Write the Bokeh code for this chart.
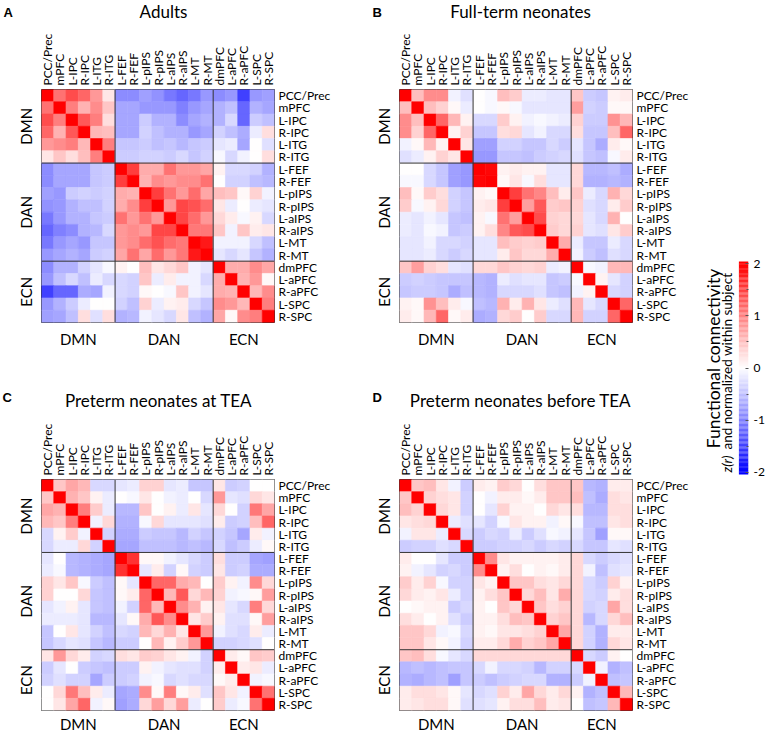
import math
import numpy as np
from bokeh.plotting import figure
from bokeh.models import (Range1d, LinearAxis, FixedTicker, Span, ColumnDataSource)
from bokeh.core.properties import value
from bokeh.layouts import row, column
from bokeh.embed import file_html
from bokeh.resources import INLINE
from bokeh.transform import linear_cmap

# ---------------- data ----------------
regions = ["PCC/Prec", "mPFC", "L-IPC", "R-IPC", "L-ITG", "R-ITG",
           "L-FEF", "R-FEF", "L-pIPS", "R-pIPS", "L-aIPS", "R-aIPS", "L-MT", "R-MT",
           "dmPFC", "L-aPFC", "R-aPFC", "L-SPC", "R-SPC"]
networks = ["DMN", "DAN", "ECN"]
network_sizes = [6, 8, 5]
colorbar_ticks = [-2, -1, 0, 1, 2]
colorbar_minor = [-1.5, -0.5, 0.5, 1.5]

# upper triangles: row i lists the values of columns i..18
adults_upper = [
    [2, 1.1, 1.4, 1.2, 0.8, 0.2, -0.9, -0.9, -0.75, -0.85, -1.05, -1.2, -1.05, -0.8, -0.9, -0.8, -1.5, -0.8, -0.75],
    [2, 1.0, 0.6, 0.9, 0.45, -0.7, -0.7, -0.8, -0.8, -0.8, -1.0, -0.8, -0.7, -0.6, -0.5, -1.2, -0.6, -0.7],
    [2, 1.3, 1.0, 0.25, -0.7, -0.7, -0.4, -0.6, -0.6, -0.9, -0.7, -0.6, -0.6, -0.3, -1.2, -0.4, -0.5],
    [2, 0.55, 0.5, -0.7, -0.7, -0.35, -0.5, -0.6, -0.6, -0.8, -0.7, -0.35, -0.5, -0.65, -0.15, 0.25],
    [2, 1.0, -0.45, -0.45, -0.4, -0.5, -0.45, -0.55, -0.45, -0.4, -0.2, -0.15, -0.7, 0.0, -0.25],
    [2, -0.4, -0.4, -0.35, -0.35, -0.4, -0.3, -0.45, -0.35, -0.05, -0.3, -0.1, 0.0, 0.25],
    [2, 1.5, 0.65, 0.65, 1.1, 0.8, 0.8, 0.7, 0.1, -0.3, -0.3, -0.35, -0.6],
    [2, 0.6, 0.9, 0.8, 0.9, 0.9, 1.1, 0.0, -0.35, -0.35, -0.5, -0.55],
    [2, 1.5, 1.1, 0.8, 1.15, 0.7, 0.5, 0.45, 0.05, 0.35, -0.1],
    [2, 0.8, 1.45, 1.35, 1.15, 0.2, -0.15, 0.0, -0.15, -0.2],
    [2, 1.45, 1.15, 0.8, 0.3, 0.15, -0.05, 0.1, -0.3],
    [2, 1.05, 1.05, 0.45, -0.1, 0.45, 0.15, 0.2],
    [2, 1.8, -0.1, -0.1, -0.1, -0.3, -0.5],
    [2, -0.2, -0.3, -0.2, -0.45, -0.6],
    [2, 0.65, 0.65, 0.9, 0.7],
    [2, 0.6, 0.8, 0.05],
    [2, 0.55, 0.9],
    [2, 1.0],
    [2],
]

fullterm_upper = [
    [2, 0.5, 0.9, 0.9, -0.1, -0.25, 0.0, -0.05, 0.5, 0.4, -0.15, -0.15, -0.2, -0.2, 0.45, -0.4, -0.45, 0.1, 0.15],
    [2, 0.5, 0.35, 0.05, -0.15, 0.0, -0.05, 0.05, -0.05, -0.2, -0.2, -0.2, -0.2, 0.75, -0.35, -0.4, 0.05, 0.05],
    [2, 1.2, 0.55, 0.1, -0.3, -0.3, 0.4, 0.1, -0.1, -0.05, -0.1, -0.15, 0.35, -0.4, -0.4, 0.85, 0.55],
    [2, 0.1, 0.35, -0.45, -0.45, 0.25, 0.3, -0.2, -0.1, -0.3, -0.3, 0.25, -0.45, -0.45, 0.5, 1.2],
    [2, 0.2, -0.75, -0.75, -0.35, -0.35, -0.45, -0.45, -0.3, -0.4, -0.2, -0.45, -0.65, 0.15, 0.05],
    [2, -0.8, -0.8, -0.45, -0.45, -0.5, -0.4, -0.35, -0.3, -0.25, -0.45, -0.5, -0.05, 0.15],
    [2, 1.95, 0.1, 0.15, 0.1, 0.1, -0.2, -0.2, 0.3, -0.55, -0.55, -0.5, -0.65],
    [2, 0.05, 0.2, -0.05, 0.25, -0.2, -0.2, 0.3, -0.6, -0.6, -0.55, -0.6],
    [2, 1.5, 1.1, 0.95, 0.5, 0.15, 0.45, -0.15, -0.3, 0.6, 0.3],
    [2, 0.75, 1.3, 0.4, 0.45, 0.35, -0.25, -0.3, 0.15, 0.4],
    [2, 1.4, 0.35, 0.3, 0.3, -0.2, -0.3, 0.6, 0.0],
    [2, 0.4, 0.3, 0.35, -0.2, -0.25, 0.2, 0.4],
    [2, 0.65, -0.15, -0.45, -0.45, -0.15, -0.3],
    [2, -0.1, -0.4, -0.5, -0.25, -0.3],
    [2, -0.05, -0.1, 0.55, 0.55],
    [2, 0.1, -0.2, -0.35],
    [2, -0.3, -0.35],
    [2, 1.2],
    [2],
]

preterm_tea_upper = [
    [2, 0.45, 0.7, 0.55, -0.3, -0.3, -0.2, -0.15, 0.35, 0.35, -0.2, -0.15, -0.45, -0.45, 0.2, -0.4, -0.35, 0.0, 0.0],
    [2, 0.6, 0.45, 0.1, -0.15, 0.0, -0.05, 0.2, 0.0, -0.1, -0.15, 0.0, -0.3, 0.8, -0.2, -0.25, 0.3, 0.2],
    [2, 1.0, 0.4, -0.15, -0.55, -0.55, 0.45, 0.0, 0.1, -0.15, 0.2, -0.2, 0.3, 0.0, -0.35, 1.05, 0.7],
    [2, -0.1, 0.3, -0.6, -0.6, -0.05, 0.3, -0.2, -0.2, -0.2, -0.25, 0.15, -0.4, -0.35, 0.5, 1.2],
    [2, -0.35, -0.65, -0.65, -0.4, -0.45, -0.45, -0.55, -0.35, -0.45, -0.35, -0.45, -0.7, 0.15, -0.1],
    [2, -0.7, -0.7, -0.5, -0.5, -0.5, -0.55, -0.5, -0.55, -0.3, -0.5, -0.4, -0.15, 0.05],
    [2, 1.6, 0.05, 0.05, -0.1, -0.2, -0.3, -0.4, 0.25, -0.4, -0.4, -0.7, -0.75],
    [2, -0.2, 0.15, -0.35, 0.05, -0.35, -0.4, 0.2, -0.4, -0.35, -0.65, -0.65],
    [2, 1.2, 1.2, 0.65, 0.55, 0.0, 0.4, 0.1, -0.1, 0.9, 0.3],
    [2, 0.55, 1.3, 0.3, 0.55, 0.35, -0.1, -0.05, 0.05, 0.75],
    [2, 0.9, 0.6, 0.1, 0.2, -0.2, -0.3, 1.0, 0.3],
    [2, 0.2, 0.4, 0.1, -0.25, -0.25, 0.05, 0.75],
    [2, 0.8, -0.1, -0.25, -0.3, 0.15, -0.15],
    [2, -0.35, -0.35, -0.3, -0.25, 0.0],
    [2, 0.15, 0.05, 0.45, 0.4],
    [2, 0.15, 0.2, -0.15],
    [2, -0.1, -0.05],
    [2, 1.1],
    [2],
]

preterm_before_upper = [
    [2, 0.45, 0.5, 0.2, -0.1, -0.4, 0.15, 0.1, 0.4, 0.3, 0.0, 0.25, 0.45, 0.45, 0.45, -0.55, -0.6, 0.15, 0.15],
    [2, 0.35, 0.25, 0.2, -0.35, 0.0, -0.1, 0.15, 0.15, 0.05, 0.15, 0.45, 0.45, 0.5, -0.5, -0.65, 0.25, 0.2],
    [2, 0.3, 0.2, -0.35, 0.0, -0.2, 0.35, 0.1, 0.1, 0.0, 0.3, 0.2, 0.25, -0.55, -0.55, 0.25, 0.25],
    [2, -0.15, -0.25, -0.2, -0.35, -0.05, 0.2, 0.1, 0.1, -0.1, 0.05, -0.05, -0.5, -0.5, 0.2, 0.25],
    [2, -0.3, -0.4, -0.3, -0.35, -0.15, -0.4, -0.25, -0.05, -0.1, -0.2, -0.45, -0.75, 0.05, 0.05],
    [2, -0.4, -0.4, -0.35, -0.35, -0.3, -0.4, -0.3, -0.35, -0.3, -0.45, -0.45, -0.2, -0.25],
    [2, 0.9, 0.2, 0.1, 0.1, 0.1, 0.1, 0.15, 0.3, -0.3, -0.4, -0.3, -0.25],
    [2, 0.1, 0.25, 0.0, 0.1, 0.05, 0.15, 0.3, -0.1, -0.5, -0.25, -0.2],
    [2, 0.45, 0.45, 0.25, 0.2, 0.3, 0.3, -0.3, -0.4, 0.35, 0.1],
    [2, 0.3, 0.5, 0.2, 0.65, 0.3, -0.3, -0.35, 0.15, 0.25],
    [2, 0.45, 0.25, 0.35, 0.3, -0.35, -0.3, 0.7, 0.25],
    [2, 0.35, 0.45, 0.3, -0.55, -0.3, 0.3, 0.5],
    [2, 0.7, 0.3, -0.35, -0.6, 0.15, 0.15],
    [2, 0.3, -0.35, -0.6, 0.3, 0.2],
    [2, -0.3, -0.4, 0.1, 0.0],
    [2, -0.1, -0.6, -0.5],
    [2, -0.5, -0.45],
    [2, 0.55],
    [2],
]

# ---------------- helpers ----------------
FONT = "Lato"
LINE = "#333333"
FRAME = 233
N = len(regions)
UNIT = FRAME / N


def bwr_palette(n=256):
    pal = []
    for k in range(n):
        t = k / (n - 1) * 2 - 1
        if t < 0:
            c = int(round(255 * (1 + t)))
            pal.append("#%02x%02x%02x" % (c, c, 255))
        else:
            c = int(round(255 * (1 - t)))
            pal.append("#%02x%02x%02x" % (255, c, c))
    return pal


PALETTE = bwr_palette()


def full_matrix(upper):
    n = len(upper)
    m = [[0.0] * n for _ in range(n)]
    for i, r in enumerate(upper):
        for k, v in enumerate(r):
            j = i + k
            m[i][j] = v
            m[j][i] = v
    return m


def mk_axis(tk, ov, orient, size, standoff):
    return LinearAxis(ticker=FixedTicker(ticks=tk, minor_ticks=[]),
                      major_label_overrides=ov,
                      major_label_orientation=orient,
                      major_label_standoff=standoff,
                      major_label_text_font=FONT,
                      major_label_text_font_size=size,
                      major_label_text_color="black",
                      major_tick_in=0, major_tick_out=0,
                      minor_tick_in=0, minor_tick_out=0,
                      major_tick_line_color=None,
                      minor_tick_line_color=None,
                      axis_line_color=None)


def panel(upper, top, bottom, left, right, bottom_standoff):
    p = figure(width=left + FRAME + right, height=top + FRAME + bottom,
               x_range=Range1d(0, N), y_range=Range1d(N, 0),
               x_axis_location=None, y_axis_location=None,
               min_border_left=left, min_border_right=right,
               min_border_top=top, min_border_bottom=bottom,
               output_backend="svg", toolbar_location=None, tools="")
    p.grid.visible = False
    p.outline_line_color = LINE
    p.outline_line_width = 1

    m = full_matrix(upper)
    xs, ys, vs = [], [], []
    for i in range(N):
        for j in range(N):
            xs.append(j + 0.5)
            ys.append(i + 0.5)
            vs.append(m[i][j])
    src = ColumnDataSource(dict(x=xs, y=ys, v=vs))
    cmap = linear_cmap("v", PALETTE, -2, 2)
    p.rect(x="x", y="y", width=1, height=1, source=src,
           fill_color=cmap, line_color=cmap, line_width=0.6)

    bounds = [float(b) for b in np.cumsum(network_sizes)[:-1]]
    for b in bounds:
        p.add_layout(Span(location=b, dimension="height", line_color=LINE, line_width=1))
        p.add_layout(Span(location=b, dimension="width", line_color=LINE, line_width=1))

    ticks = [i + 0.5 for i in range(N)]
    overrides = {t: lab for t, lab in zip(ticks, regions)}
    starts = [0.0] + bounds
    centers = [float(s + sz / 2) for s, sz in zip(starts, network_sizes)]
    g_over = {c: name for c, name in zip(centers, networks)}

    p.add_layout(mk_axis(ticks, overrides, "vertical", "12px", 4), "above")
    p.add_layout(mk_axis(ticks, overrides, "horizontal", "12px", 4), "right")
    p.add_layout(mk_axis(centers, g_over, "vertical", "15px", 6), "left")
    p.add_layout(mk_axis(centers, g_over, "horizontal", "15px", bottom_standoff), "below")
    return p


def strip(width, height, left, title, letter, title_x, title_y, letter_x, letter_y):
    s = figure(width=width, height=height,
               x_range=Range1d(-left / UNIT, (width - left) / UNIT),
               y_range=Range1d(height, 0), min_border=0,
               x_axis_location=None, y_axis_location=None,
               output_backend="svg", toolbar_location=None, tools="")
    s.grid.visible = False
    s.outline_line_color = None
    s.text(x=[(title_x - left) / UNIT], y=[title_y], text=[title],
           text_font=value(FONT), text_font_size="17px", text_color="black",
           text_align="center", text_baseline="middle")
    s.text(x=[(letter_x - left) / UNIT], y=[letter_y], text=[letter],
           text_font=value("Liberation Sans"), text_font_style="bold",
           text_font_size="13px", text_color="black",
           text_align="left", text_baseline="middle")
    return s


# geometry (pixels)
W_LEFT, W_RIGHT = 370, 330
LEFT_A, LEFT_B = 41, 29
STRIP1, STRIP2 = 30, 70

sA = strip(W_LEFT, STRIP1, LEFT_A, "Adults", "A", 163, 11, 3, 12)
sB = strip(W_RIGHT, STRIP1, LEFT_B, "Full-term neonates", "B", 520 - 370, 11, 372 - 370, 12)
pA = panel(adults_upper, 59, 28, LEFT_A, W_LEFT - LEFT_A - FRAME, 7)
pB = panel(fullterm_upper, 59, 28, LEFT_B, W_RIGHT - LEFT_B - FRAME, 7)
sC = strip(W_LEFT, STRIP2, LEFT_A, "Preterm neonates at TEA", "C", 158, 50, 2, 47)
sD = strip(W_RIGHT, STRIP2, LEFT_B, "Preterm neonates before TEA", "D", 520 - 370, 50, 372 - 370, 47)
pC = panel(preterm_tea_upper, 59, 23, LEFT_A, W_LEFT - LEFT_A - FRAME, 4)
pD = panel(preterm_before_upper, 59, 23, LEFT_B, W_RIGHT - LEFT_B - FRAME, 4)

TOTAL_H = STRIP1 + (59 + FRAME + 28) + STRIP2 + (59 + FRAME + 23)

# ---------------- colour bar ----------------
CB_W = 67
CB_FRAME_W = 50          # frame covers the text column and the bar
CB_TOP, CB_H = 261, 213
CB_LO, CB_HI = -2.04, 2.04
cb = figure(width=CB_W, height=TOTAL_H, x_range=Range1d(-4, 1), y_range=Range1d(CB_LO, CB_HI),
            x_axis_location=None, y_axis_location=None,
            min_border_left=0, min_border_right=CB_W - CB_FRAME_W,
            min_border_top=CB_TOP, min_border_bottom=TOTAL_H - CB_TOP - CB_H,
            output_backend="svg", toolbar_location=None, tools="")
cb.grid.visible = False
cb.outline_line_color = None
levels = np.linspace(CB_LO, CB_HI, 171)
step = levels[1] - levels[0]
cb_src = ColumnDataSource(dict(y=levels, v=levels))
cb_cmap = linear_cmap("v", PALETTE, -2, 2)
cb.rect(x=0.5, y="y", width=1, height=step * 1.05, source=cb_src,
        fill_color=cb_cmap, line_color=None)
cb_axis = LinearAxis(ticker=FixedTicker(ticks=colorbar_ticks, minor_ticks=colorbar_minor),
                     major_label_overrides={float(t): str(t) for t in colorbar_ticks},
                     major_label_standoff=5,
                     major_label_text_font=FONT, major_label_text_font_size="12px",
                     major_label_text_color="black",
                     major_tick_in=3, major_tick_out=0,
                     minor_tick_in=2, minor_tick_out=0,
                     major_tick_line_color="#555555", minor_tick_line_color="#555555",
                     axis_line_color=None)
cb.add_layout(cb_axis, "right")

px_x = CB_FRAME_W / 5.0                 # pixels per x unit
px_y = CB_H / (CB_HI - CB_LO)           # pixels per y unit


def cb_y(page_y):
    return CB_HI - (page_y - CB_TOP) / px_y


cb.text(x=[(714 - 740) / px_x], y=[cb_y(358)], text=["Functional connectivity"], angle=math.pi / 2,
        text_align="center", text_baseline="middle",
        text_font=value(FONT), text_font_size="17.5px", text_color="black")
cb.text(x=[(728 - 740) / px_x], y=[cb_y(472)], text=["z(r)"], angle=math.pi / 2,
        text_align="left", text_baseline="middle",
        text_font=value(FONT), text_font_style="italic", text_font_size="13.5px", text_color="black")
cb.text(x=[(728 - 740) / px_x], y=[cb_y(449)], text=["and normalized within subject"], angle=math.pi / 2,
        text_align="left", text_baseline="middle",
        text_font=value(FONT), text_font_size="13.5px", text_color="black")

layout = row(column(row(sA, sB), row(pA, pB), row(sC, sD), row(pC, pD)), cb)

open("out.html", "w").write(file_html(layout, INLINE))
